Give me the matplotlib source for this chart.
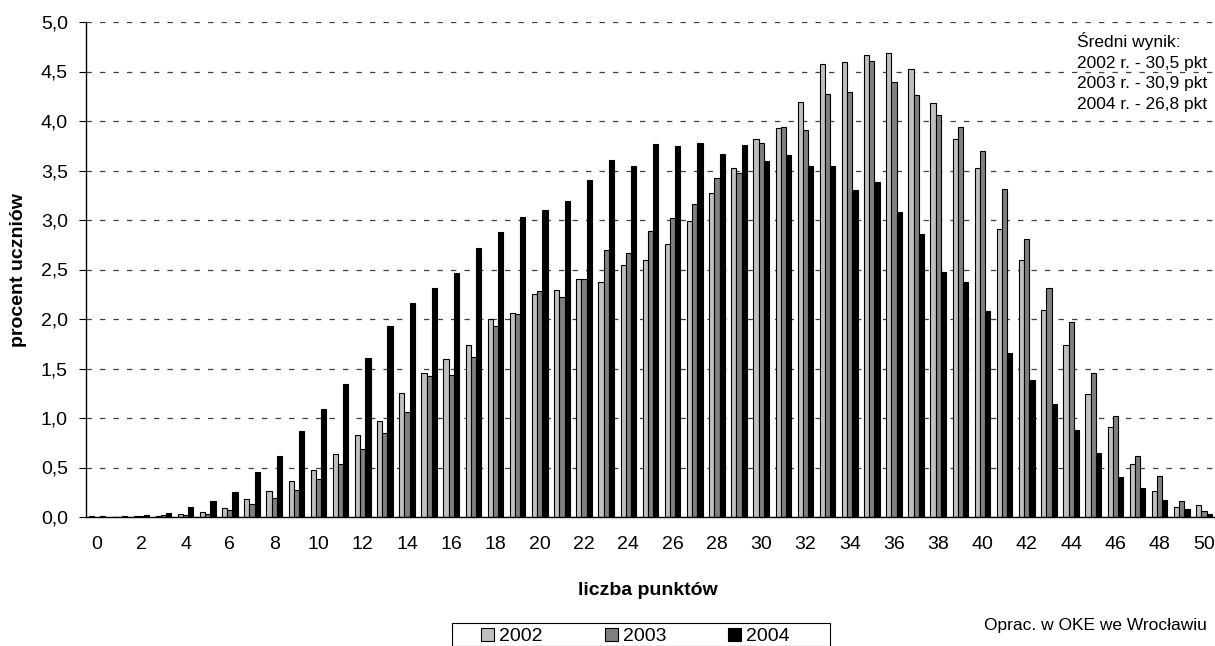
import matplotlib
matplotlib.use("Agg")
import matplotlib.pyplot as plt
import matplotlib.patches as mpatches
import numpy as np

plt.rcParams['font.family'] = ['Liberation Sans', 'DejaVu Sans']

points = list(range(51))
v2002 = [0.01, 0.00, 0.01, 0.01, 0.03, 0.05, 0.09, 0.18, 0.26, 0.36,
         0.47, 0.64, 0.83, 0.97, 1.25, 1.45, 1.60, 1.74, 2.00, 2.06,
         2.25, 2.29, 2.40, 2.37, 2.55, 2.60, 2.76, 2.99, 3.27, 3.53,
         3.82, 3.93, 4.19, 4.58, 4.60, 4.67, 4.69, 4.53, 4.18, 3.82,
         3.53, 2.91, 2.60, 2.09, 1.74, 1.24, 0.91, 0.54, 0.26, 0.10,
         0.12]
v2003 = [0.00, 0.00, 0.01, 0.02, 0.02, 0.03, 0.07, 0.13, 0.19, 0.27,
         0.38, 0.54, 0.69, 0.85, 1.06, 1.42, 1.43, 1.62, 1.93, 2.05,
         2.28, 2.22, 2.40, 2.70, 2.67, 2.89, 3.02, 3.16, 3.42, 3.47,
         3.78, 3.94, 3.91, 4.27, 4.29, 4.61, 4.39, 4.26, 4.06, 3.94,
         3.70, 3.31, 2.81, 2.31, 1.97, 1.45, 1.02, 0.62, 0.41, 0.16,
         0.06]
v2004 = [0.01, 0.01, 0.02, 0.04, 0.10, 0.16, 0.25, 0.45, 0.62, 0.87,
         1.09, 1.34, 1.61, 1.93, 2.16, 2.31, 2.46, 2.72, 2.88, 3.03,
         3.10, 3.19, 3.40, 3.61, 3.55, 3.77, 3.75, 3.78, 3.67, 3.76,
         3.60, 3.66, 3.55, 3.55, 3.30, 3.38, 3.08, 2.86, 2.47, 2.37,
         2.08, 1.66, 1.38, 1.14, 0.88, 0.65, 0.40, 0.29, 0.17, 0.08,
         0.03]
series = ['2002', '2003', '2004']
colors = ['#c0c0c0', '#808080', '#000000']
y_ticks = [0.0, 0.5, 1.0, 1.5, 2.0, 2.5, 3.0, 3.5, 4.0, 4.5, 5.0]
x_labels = [str(p) if p % 2 == 0 else '' for p in points]
info_lines = ['Średni wynik:', '2002 r. - 30,5 pkt', '2003 r. - 30,9 pkt', '2004 r. - 26,8 pkt']

W, H = 1215, 646
fig = plt.figure(figsize=(W / 100, H / 100), dpi=100)
ax = fig.add_axes([86 / W, 1 - 517 / H, (W - 86) / W, (517 - 22) / H])

x = np.arange(len(points))
w = 0.235
for i, (vals, c, lab) in enumerate(zip([v2002, v2003, v2004], colors, series)):
    ax.bar(x + (i - 1) * w, vals, width=w, color=c, edgecolor='black',
           linewidth=0.8, label=lab, zorder=3)

ax.set_xlim(-0.5, len(points) - 0.5)
ax.set_ylim(0, 5.0)
ax.set_yticks(y_ticks)
ax.set_yticklabels([f"{t:.1f}".replace('.', ',') for t in y_ticks], fontsize=14)
ax.set_xticks(x)
ax.set_xticklabels(x_labels, fontsize=14)
ax.tick_params(axis='x', length=0, pad=14)
ax.tick_params(axis='y', length=5, direction='out', width=0.8, pad=8)
ax.yaxis.grid(True, linestyle=(0, (4.3, 6.5)), color='#404040', linewidth=0.9, zorder=0)
for s in ['top', 'right']:
    ax.spines[s].set_visible(False)
ax.spines['left'].set_linewidth(1.0)
ax.spines['bottom'].set_linewidth(1.0)
ax.spines['bottom'].set_zorder(4)

fig.text(18.5 / W, 1 - 270 / H, 'procent uczniów', fontsize=14, fontweight='bold',
         rotation=90, ha='center', va='center')
fig.text(648 / W, 1 - 595 / H, 'liczba punktów', fontsize=14, fontweight='bold',
         ha='center', va='baseline')

for k, line in enumerate(info_lines):
    fig.text(1077 / W, 1 - (47 + 20.7 * k) / H, line, fontsize=12.5, va='baseline', ha='left')

fig.text(1207 / W, 1 - 630 / H, 'Oprac. w OKE we Wrocławiu', fontsize=12.5,
         va='baseline', ha='right')

# legend frame
fig.patches.append(mpatches.Rectangle((452 / W, 0), (830 - 452) / W, 1 - 623 / H,
                                      transform=fig.transFigure, fill=False,
                                      edgecolor='black', linewidth=0.8))
leg = fig.legend(loc='upper left', bbox_to_anchor=(481 / W, 1 - 628 / H),
                 ncol=3, fontsize=14, frameon=False, handlelength=0.67, handleheight=0.67,
                 handletextpad=0.25, columnspacing=3.2, borderpad=0, borderaxespad=0)

fig.savefig('out.png', dpi=100)
